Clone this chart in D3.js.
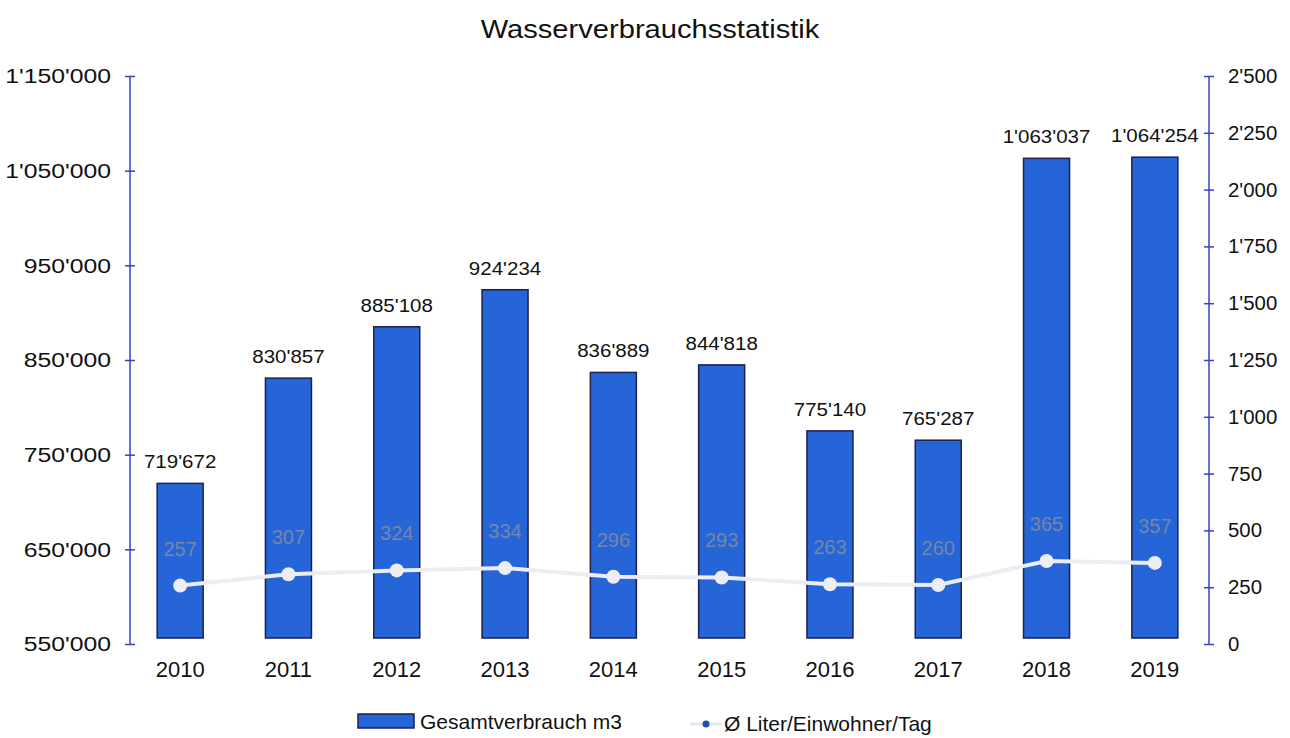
<!DOCTYPE html>
<html>
<head>
<meta charset="utf-8">
<script src="https://cdn.jsdelivr.net/npm/d3@7"></script>
<style>
  body { margin: 0; background: #fff; }
  text { font-family: "Liberation Sans", Arial, sans-serif; }
</style>
</head>
<body>
<script>
const years = ["2010", "2011", "2012", "2013", "2014", "2015", "2016", "2017", "2018", "2019"];
const totalM3 = [719672, 830857, 885108, 924234, 836889, 844818, 775140, 765287, 1063037, 1064254];
const literPerDay = [257, 307, 324, 334, 296, 293, 263, 260, 365, 357];
const leftTicks = [550000, 650000, 750000, 850000, 950000, 1050000, 1150000];
const rightTicks = [0, 250, 500, 750, 1000, 1250, 1500, 1750, 2000, 2250, 2500];

const width = 1290, height = 738;
const plotLeft = 126, plotRight = 1209, plotTop = 76, plotBottom = 644;
const axisColor = "#3a3fc8";
const barColor = "#2565d8";

const loc = d3.formatLocale({ decimal: ".", thousands: "'", grouping: [3], currency: ["", ""] });
const fmt = loc.format(",d");

// the scan is a little wider than tall, so some text gets stretched sideways
function stretch(sel, s) {
    sel.attr("transform", function () {
        const x0 = +this.getAttribute("x") || 0;
        return `translate(${x0 * (1 - s)},0) scale(${s},1)`;
    });
}

const svg = d3.select("body").append("svg")
    .attr("width", width)
    .attr("height", height);

const x = d3.scaleBand().domain(years).range([plotLeft, plotRight]);
const yL = d3.scaleLinear().domain([550000, 1150000]).range([plotBottom, plotTop]);
const yR = d3.scaleLinear().domain([0, 2500]).range([plotBottom, plotTop]);
const barW = 46;
const cx = d => x(d.year) + x.bandwidth() / 2;

svg.append("text")
    .attr("x", 650).attr("y", 38)
    .attr("text-anchor", "middle")
    .attr("font-size", 26)
    .attr("fill", "#111")
    .text("Wasserverbrauchsstatistik")
    .call(stretch, 1.12);

// bars
const rows = years.map((y, i) => ({ year: y, total: totalM3[i], liter: literPerDay[i] }));

svg.append("g").selectAll("rect")
    .data(rows)
    .enter()
    .append("rect")
    .attr("x", d => cx(d) - barW / 2)
    .attr("y", d => yL(d.total))
    .attr("width", barW)
    .attr("height", d => plotBottom - 6 - yL(d.total))
    .attr("fill", barColor)
    .attr("stroke", "#1b2050")
    .attr("stroke-width", 1.5);

svg.append("g").selectAll("text")
    .data(rows)
    .enter()
    .append("text")
    .attr("x", cx)
    .attr("y", d => yL(d.total) - 15)
    .attr("text-anchor", "middle")
    .attr("font-size", 19)
    .attr("fill", "#111")
    .text(d => fmt(d.total))
    .call(stretch, 1.08);

// axes
const axL = svg.append("g")
    .attr("transform", `translate(${plotLeft + 4},0)`)
    .call(d3.axisLeft(yL).tickValues(leftTicks).tickFormat(fmt).tickSize(5).tickPadding(14));
const axR = svg.append("g")
    .attr("transform", `translate(${plotRight},0)`)
    .call(d3.axisRight(yR).tickValues(rightTicks).tickFormat(fmt).tickSize(5).tickPadding(14));

[axL, axR].forEach(ax => {
    ax.select(".domain").attr("stroke", axisColor).attr("stroke-width", 1.5).attr("d", `M0,${plotTop}V${plotBottom}`);
    ax.selectAll(".tick line").attr("x1", -5).attr("x2", 5).attr("stroke", axisColor).attr("stroke-width", 1.5);
    ax.selectAll(".tick text").attr("fill", "#111").attr("font-family", "Liberation Sans, Arial, sans-serif");
});
axL.selectAll(".tick text").attr("font-size", 21).call(stretch, 1.18);
axR.selectAll(".tick text").attr("font-size", 20).call(stretch, 1.02);

// year labels
svg.append("g").selectAll("text")
    .data(years)
    .enter()
    .append("text")
    .attr("x", d => x(d) + x.bandwidth() / 2)
    .attr("y", plotBottom + 33)
    .attr("text-anchor", "middle")
    .attr("font-size", 22)
    .attr("fill", "#111")
    .text(d => d);

// line series
const line = d3.line()
    .x(cx)
    .y(d => yR(d.liter));

svg.append("path")
    .datum(rows)
    .attr("fill", "none")
    .attr("stroke", "#ececf3")
    .attr("stroke-width", 4)
    .attr("d", line);

svg.append("g").selectAll("circle")
    .data(rows)
    .enter()
    .append("circle")
    .attr("cx", cx)
    .attr("cy", d => yR(d.liter))
    .attr("r", 7)
    .attr("fill", "#efedf4");

svg.append("g").selectAll("text")
    .data(rows)
    .enter()
    .append("text")
    .attr("x", cx)
    .attr("y", d => yR(d.liter) - 30)
    .attr("text-anchor", "middle")
    .attr("font-size", 20)
    .attr("fill", "#7686a6")
    .text(d => fmt(d.liter));

// legend
const lg = svg.append("g");
lg.append("rect")
    .attr("x", 358).attr("y", 714)
    .attr("width", 56).attr("height", 14)
    .attr("fill", barColor)
    .attr("stroke", "#1b2050")
    .attr("stroke-width", 1.5);
lg.append("text")
    .attr("x", 420).attr("y", 729)
    .attr("font-size", 21)
    .attr("fill", "#111")
    .text("Gesamtverbrauch m3");
lg.append("line")
    .attr("x1", 690).attr("x2", 722)
    .attr("y1", 724).attr("y2", 724)
    .attr("stroke", "#e6e6ee")
    .attr("stroke-width", 3);
lg.append("circle")
    .attr("cx", 706).attr("cy", 724)
    .attr("r", 3.5)
    .attr("fill", "#2050b0");
lg.append("text")
    .attr("x", 724).attr("y", 731)
    .attr("font-size", 21)
    .attr("fill", "#111")
    .text("Ø Liter/Einwohner/Tag");
</script>
</body>
</html>
